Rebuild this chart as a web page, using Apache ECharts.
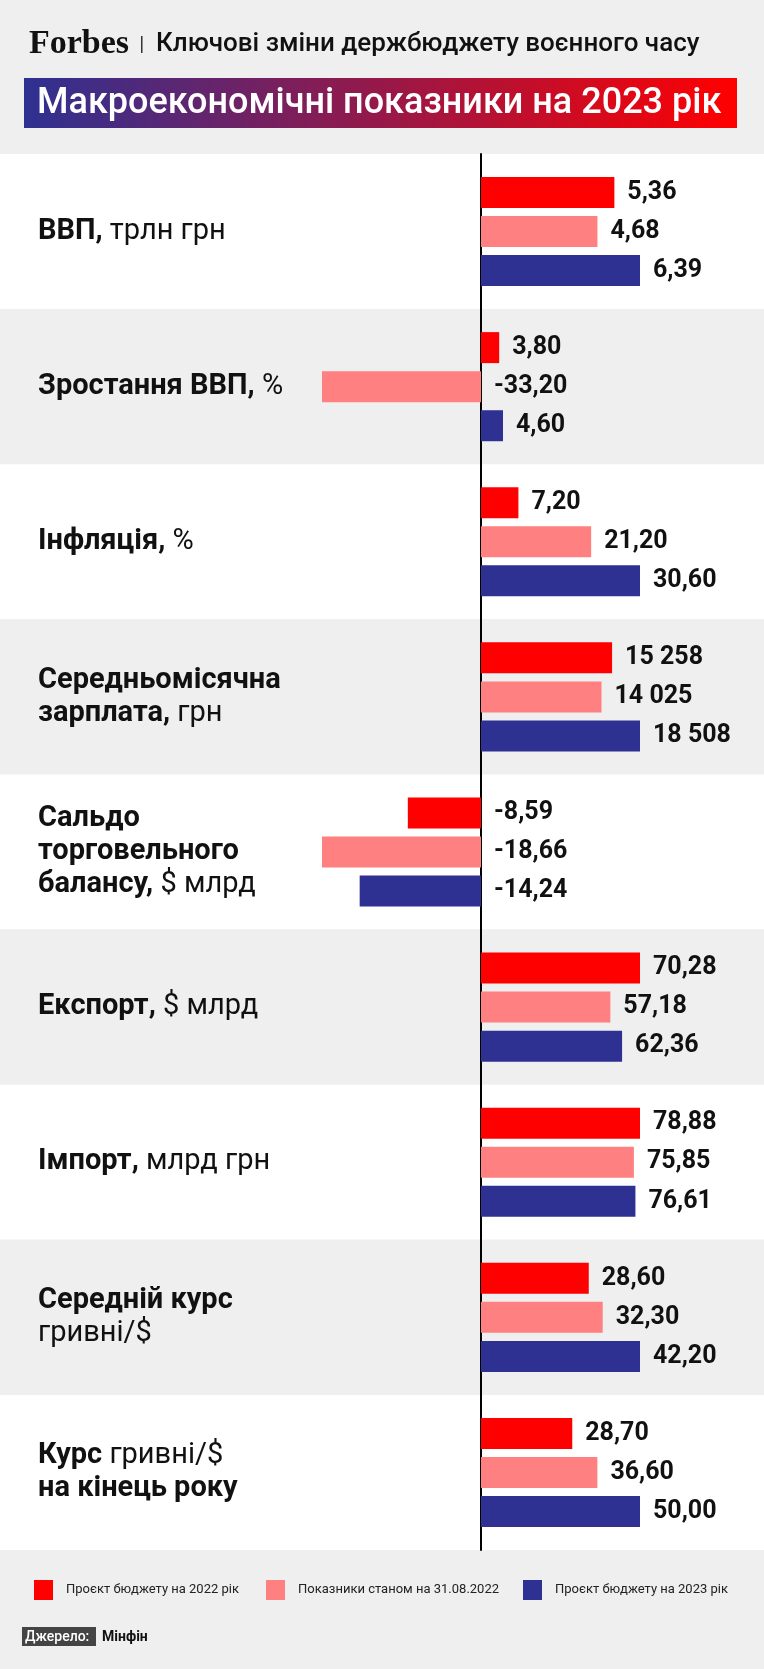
<!DOCTYPE html>
<html lang="uk">
<head>
    <meta charset="UTF-8">
    <title>Макроекономічні показники на 2023 рік</title>
    <script src="https://cdn.jsdelivr.net/npm/echarts@6/dist/echarts.min.js"></script>
    <style>
        html, body {
            margin: 0;
            padding: 0;
            background: #efefef;
        }
        #chart {
            width: 764px;
            height: 1669px;
        }
    </style>
</head>
<body>
<div id="chart"></div>
<script>
    // категорії (rich-текст: b - жирний, n - звичайний)
    var categories = [
        '{b|ВВП,}{n| трлн грн}',
        '{b|Зростання ВВП,}{n| %}',
        '{b|Інфляція,}{n| %}',
        '{b|Середньомісячна}\n{b|зарплата,}{n| грн}',
        '{b|Сальдо}\n{b|торговельного}\n{b|балансу,}{n| $ млрд}',
        '{b|Експорт,}{n| $ млрд}',
        '{b|Імпорт,}{n| млрд грн}',
        '{b|Середній курс}\n{n|гривні/$}',
        '{b|Курс}{n| гривні/$}\n{b|на кінець року}'
    ];
    var seriesNames = ['Проєкт бюджету на 2022 рік', 'Показники станом на 31.08.2022', 'Проєкт бюджету на 2023 рік'];
    var plan2022 = [5.36, 3.80, 7.20, 15258, -8.59, 70.28, 78.88, 28.60, 28.70];
    var fact2022 = [4.68, -33.20, 21.20, 14025, -18.66, 57.18, 75.85, 32.30, 36.60];
    var plan2023 = [6.39, 4.60, 30.60, 18508, -14.24, 62.36, 76.61, 42.20, 50.00];
    var colors = ['#ff0000', '#ff8080', '#2e3192'];

    var raw = [plan2022, fact2022, plan2023];

    // кожен показник у своєму масштабі: найбільший модуль = повна довжина
    var scaleMax = categories.map(function (c, i) {
        return Math.max(Math.abs(plan2022[i]), Math.abs(fact2022[i]), Math.abs(plan2023[i]));
    });

    function fmt(v) {
        if (Math.abs(v) >= 1000) {
            return String(Math.round(v)).replace(/\B(?=(\d{3})+(?!\d))/g, ' ');
        }
        return v.toFixed(2).replace('.', ',');
    }

    var zeroX = 481, fullLen = 159, W = 764;
    var font = 'Roboto';

    var chart = echarts.init(document.getElementById('chart'));

    var series = raw.map(function (arr, s) {
        return {
            name: seriesNames[s],
            type: 'bar',
            barWidth: 31,
            barGap: '26%',
            itemStyle: {color: colors[s]},
            emphasis: {disabled: true},
            label: {
                show: true,
                position: 'right',
                distance: 13,
                color: '#111',
                fontFamily: font,
                fontWeight: 'bold',
                fontSize: 25,
                formatter: function (p) {
                    return fmt(raw[p.seriesIndex][p.dataIndex]);
                }
            },
            data: arr.map(function (v, i) {
                return v / scaleMax[i];
            })
        };
    });

    function legendAt(i, left) {
        return {
            data: [seriesNames[i]],
            left: left,
            top: 1580,
            padding: 0,
            icon: 'rect',
            itemWidth: 19,
            itemHeight: 20,
            selectedMode: false,
            textStyle: {
                fontFamily: font,
                fontSize: 13,
                color: '#222',
                padding: [0, 0, 0, 8]
            }
        };
    }

    var option = {
        backgroundColor: '#efefef',
        animation: false,
        grid: {left: 0, right: 0, top: 154, height: 1396, outerBoundsMode: 'none'},
        xAxis: {
            type: 'value',
            min: -zeroX / fullLen,
            max: (W - zeroX) / fullLen,
            show: false
        },
        yAxis: {
            type: 'category',
            inverse: true,
            data: categories,
            axisTick: {show: false},
            axisLine: {show: true, onZero: true, lineStyle: {color: '#000', width: 2}},
            splitArea: {show: true, areaStyle: {color: ['#ffffff', '#efefef']}},
            axisLabel: {
                interval: 0,
                align: 'left',
                margin: -38,
                lineHeight: 33,
                rich: {
                    b: {fontFamily: font, fontWeight: 'bold', fontSize: 29, color: '#111', lineHeight: 33},
                    n: {fontFamily: font, fontWeight: 'normal', fontSize: 29, color: '#111', lineHeight: 33}
                }
            }
        },
        legend: [legendAt(0, 34), legendAt(1, 266), legendAt(2, 523)],
        graphic: [
            {
                type: 'text', x: 29, y: 44,
                style: {text: 'Forbes', font: 'bold 34px "Liberation Serif"', fill: '#111', verticalAlign: 'middle'}
            },
            {
                type: 'rect', shape: {x: 141, y: 36, width: 1.5, height: 17},
                style: {fill: '#333'}
            },
            {
                type: 'text', x: 156, y: 44,
                style: {
                    text: 'Ключові зміни держбюджету воєнного часу',
                    font: '500 26px Roboto', fill: '#111', verticalAlign: 'middle'
                }
            },
            {
                type: 'rect', shape: {x: 24, y: 78, width: 713, height: 50},
                style: {
                    fill: new echarts.graphic.LinearGradient(0, 0, 1, 0, [
                        {offset: 0, color: '#2e3192'},
                        {offset: 1, color: '#ff0000'}
                    ])
                }
            },
            {
                type: 'text', x: 37, y: 104,
                style: {
                    text: 'Макроекономічні показники на 2023 рік',
                    font: '500 36px Roboto', fill: '#fff', verticalAlign: 'middle'
                }
            },
            {
                type: 'rect', shape: {x: 22, y: 1627, width: 74, height: 19},
                style: {fill: '#444'}
            },
            {
                type: 'text', x: 25, y: 1637,
                style: {text: 'Джерело:', font: '500 14px Roboto', fill: '#fff', verticalAlign: 'middle'}
            },
            {
                type: 'text', x: 102, y: 1637,
                style: {text: 'Мінфін', font: 'bold 14px Roboto', fill: '#111', verticalAlign: 'middle'}
            }
        ],
        series: series
    };

    chart.setOption(option);
</script>
</body>
</html>
